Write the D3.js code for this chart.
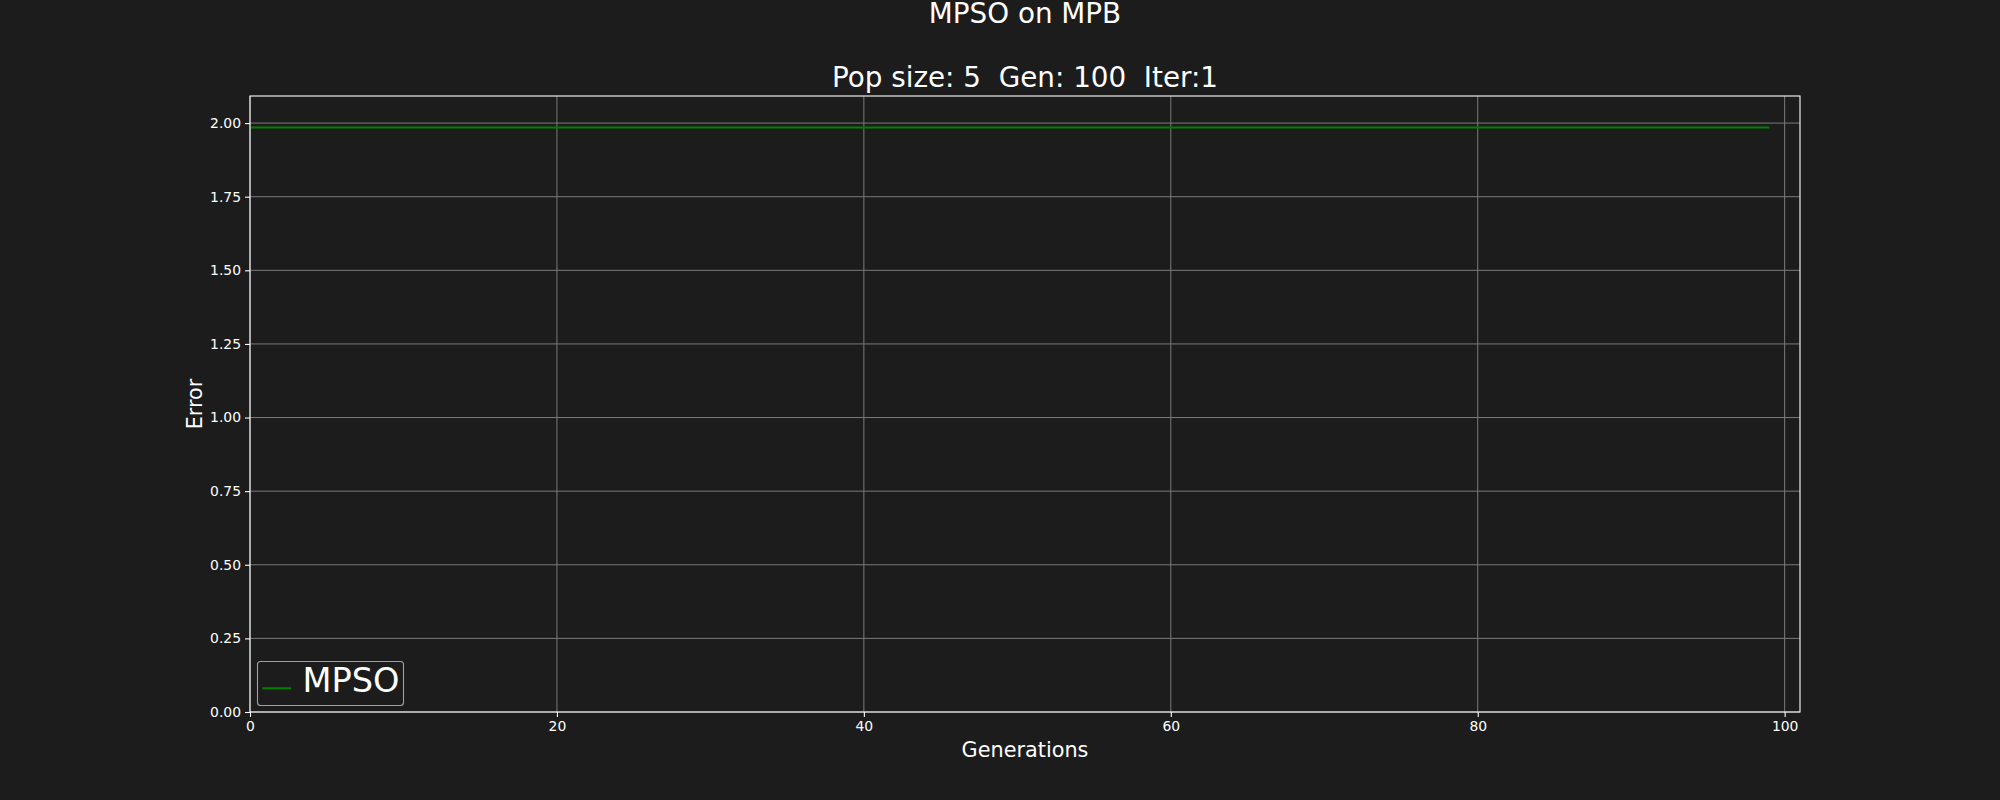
<!DOCTYPE html>
<html>
<head>
<meta charset="utf-8">
<script src="https://cdn.jsdelivr.net/npm/d3@7"></script>
<style>
  html, body { margin: 0; padding: 0; background: #1c1c1c; }
  svg { display: block; }
  text { font-family: "DejaVu Sans", sans-serif; fill: #ffffff; white-space: pre; }
</style>
</head>
<body>
<svg id="chart" width="2000" height="800"></svg>
<script>
// ---- data ----
const generations = d3.range(0, 100); // 0..99
const mpsoError = generations.map(() => 1.985);
const seriesName = "MPSO";
const xTicks = [0, 20, 40, 60, 80, 100];
const yTicks = [0, 0.25, 0.5, 0.75, 1.0, 1.25, 1.5, 1.75, 2.0];
const titleLine1 = "MPSO on MPB";
const titleLine2 = "Pop size: 5  Gen: 100  Iter:1";
const xLabel = "Generations";
const yLabel = "Error";

// ---- layout ----
const W = 2000, H = 800;
const mLeft = 250, mRight = 1800, mTop = 96, mBottom = 712;

const svg = d3.select("#chart");
svg.append("rect").attr("width", W).attr("height", H).attr("fill", "#1c1c1c");

const x = d3.scaleLinear().domain([0, 101]).range([mLeft, mRight]);
const y = d3.scaleLinear().domain([0, 2.092]).range([mBottom, mTop]);

// grid
const grid = svg.append("g");
grid.selectAll("line.gx").data(xTicks).join("line")
  .attr("x1", d => x(d)).attr("x2", d => x(d))
  .attr("y1", mTop).attr("y2", mBottom)
  .attr("stroke", "#7a7a7a").attr("stroke-width", 1);
grid.selectAll("line.gy").data(yTicks).join("line")
  .attr("x1", mLeft).attr("x2", mRight)
  .attr("y1", d => y(d)).attr("y2", d => y(d))
  .attr("stroke", "#7a7a7a").attr("stroke-width", 1);

// data line
const line = d3.line().x((d, i) => x(generations[i])).y(d => y(d));
svg.append("path").datum(mpsoError)
  .attr("d", line).attr("fill", "none")
  .attr("stroke", "#008000").attr("stroke-width", 2.1);

// axes
const xAxis = d3.axisBottom(x).tickValues(xTicks).tickSize(5).tickPadding(4).tickFormat(d3.format("d"));
const yAxis = d3.axisLeft(y).tickValues(yTicks).tickSize(5).tickPadding(4).tickFormat(d3.format(".2f"));
const gx = svg.append("g").attr("transform", `translate(0,${mBottom})`).call(xAxis);
const gy = svg.append("g").attr("transform", `translate(${mLeft},0)`).call(yAxis);
[gx, gy].forEach(g => {
  g.select(".domain").remove();
  g.selectAll(".tick line").attr("stroke", "#ffffff").attr("stroke-width", 1.1);
  g.selectAll(".tick text").attr("fill", "#ffffff")
    .style("font-family", "DejaVu Sans").style("font-size", "13.9px");
});

// spines
svg.append("rect").attr("x", mLeft).attr("y", mTop)
  .attr("width", mRight - mLeft).attr("height", mBottom - mTop)
  .attr("fill", "none").attr("stroke", "#ffffff").attr("stroke-width", 1.1);

// titles
svg.append("text").attr("x", (mLeft + mRight) / 2).attr("y", 22.7)
  .attr("text-anchor", "middle").attr("xml:space", "preserve").style("font-size", "27.8px").text(titleLine1);
svg.append("text").attr("x", (mLeft + mRight) / 2).attr("y", 87.3)
  .attr("text-anchor", "middle").attr("xml:space", "preserve").style("font-size", "27.8px").text(titleLine2);

// axis labels
svg.append("text").attr("x", (mLeft + mRight) / 2).attr("y", 756.7)
  .attr("text-anchor", "middle").style("font-size", "20.8px").text(xLabel);
svg.append("text")
  .attr("transform", `translate(201.7,${(mTop + mBottom) / 2}) rotate(-90)`)
  .attr("text-anchor", "middle").style("font-size", "20.8px").text(yLabel);

// legend
const lg = svg.append("g");
lg.append("rect").attr("x", 257.5).attr("y", 661.5).attr("width", 146).attr("height", 44)
  .attr("rx", 3).attr("fill", "#1c1c1c").attr("stroke", "#a0a0a0").attr("stroke-width", 1.1);
lg.append("line").attr("x1", 262.3).attr("x2", 291).attr("y1", 688.3).attr("y2", 688.3)
  .attr("stroke", "#008000").attr("stroke-width", 2.1);
lg.append("text").attr("x", 302.5).attr("y", 692.3)
  .style("font-size", "33.6px").text(seriesName);
</script>
</body>
</html>
